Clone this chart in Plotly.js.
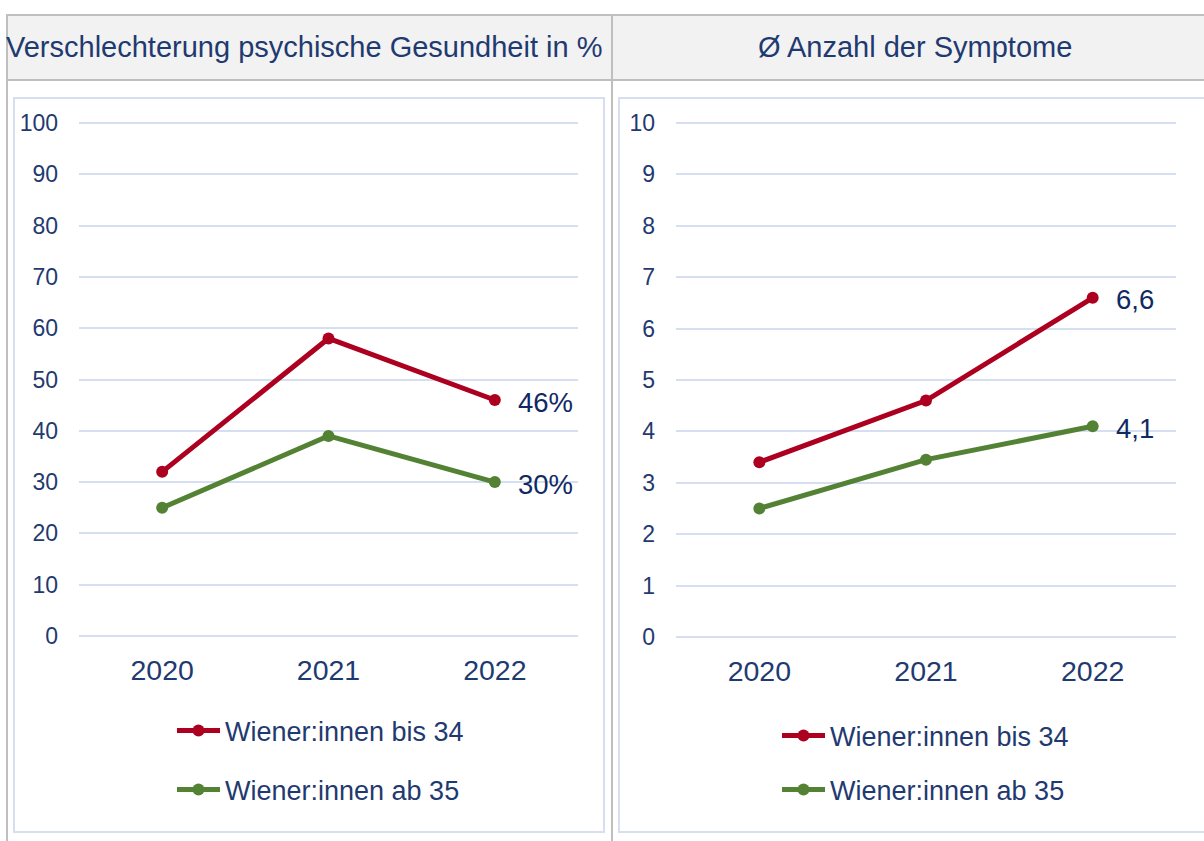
<!DOCTYPE html>
<html>
<head>
<meta charset="utf-8">
<script src="https://cdn.plot.ly/plotly-3.0.1.min.js"></script>
<style>
html,body{margin:0;padding:0;background:#fff;}
#chart{width:1204px;height:841px;}
</style>
</head>
<body>
<div id="chart"></div>
<script>
// ---- data ----
const years = ["2020", "2021", "2022"];
const seriesNames = ["Wiener:innen bis 34", "Wiener:innen ab 35"];
const panelTitles = ["Verschlechterung psychische Gesundheit in %", "Ø Anzahl der Symptome"];
const worseYoung = [32, 58, 46];
const worseOld = [25, 39, 30];
const symptomsYoung = [3.4, 4.6, 6.6];
const symptomsOld = [2.5, 3.45, 4.1];
const pctTicks = [0, 10, 20, 30, 40, 50, 60, 70, 80, 90, 100];
const symTicks = [0, 1, 2, 3, 4, 5, 6, 7, 8, 9, 10];

// ---- styling / layout helpers ----
const W = 1204, H = 841;
const px = x => x / W;
const py = y => 1 - y / H;
const RED = "#ad0020", GREEN = "#548235";
const NAVY = "#1f3a70", LABEL = "#0f2a63";
const FONT = "Arial, 'Liberation Sans', sans-serif";
const GRID = "#d6dff1";
const xIdx = years.map((_, i) => i);

// y-domain from pixel positions of two values
function yDomain(v0, p0, v1, p1, r0, r1) {
  const k = (p0 - p1) / (v1 - v0);
  const pb = p0 + (v0 - r0) * k;
  const pt = p1 - (r1 - v1) * k;
  return [py(pb), py(pt)];
}

function mk(x, y, name, color, xa, ya, legend) {
  return {
    x: x, y: y, name: name, type: "scatter", mode: "lines+markers",
    line: {color: color, width: 5}, marker: {color: color, size: 12},
    xaxis: xa, yaxis: ya, legend: legend, hoverinfo: "skip"
  };
}

const traces = [
  mk(xIdx, worseYoung, seriesNames[0], RED, "x", "y", "legend"),
  mk(xIdx, worseOld, seriesNames[1], GREEN, "x", "y", "legend2"),
  mk(xIdx, symptomsYoung, seriesNames[0], RED, "x2", "y2", "legend3"),
  mk(xIdx, symptomsOld, seriesNames[1], GREEN, "x2", "y2", "legend4")
];

const last = years.length - 1;
const fmtPct = v => v + "%";
const fmtDec = v => String(v).replace(".", ",");
function dataLabel(xa, ya, v, fmt) {
  return {xref: xa, yref: ya, x: last, y: v, text: fmt(v), showarrow: false,
    xanchor: "left", yanchor: "middle", xshift: 21, yshift: -2,
    font: {family: FONT, size: 27.5, color: LABEL}};
}

const xCommon = {
  tickvals: xIdx, ticktext: years, range: [-0.5, 2.5],
  showgrid: false, zeroline: false, showline: false, ticks: "",
  tickfont: {family: FONT, size: 28.5, color: NAVY}, ticklabelstandoff: 4, fixedrange: true
};
const yCommon = {
  showgrid: true, gridcolor: GRID, gridwidth: 2, zeroline: false, showline: false, ticks: "",
  tickfont: {family: FONT, size: 23, color: NAVY}, ticklabelstandoff: 20, fixedrange: true
};

function legendAt(x, y) {
  return {x: px(x), y: py(y), xanchor: "left", yanchor: "middle",
    font: {family: FONT, size: 27, color: NAVY}, bgcolor: "rgba(0,0,0,0)",
    borderwidth: 0, itemwidth: 43, itemclick: false, itemdoubleclick: false};
}

const border = "#bfbfbf";
const boxLine = "#d7def0";
const shapes = [
  // header band
  {type: "rect", xref: "paper", yref: "paper", x0: px(7), x1: px(1205), y0: py(80), y1: py(15),
   fillcolor: "#f2f2f2", line: {color: border, width: 2}, layer: "below"},
  {type: "line", xref: "paper", yref: "paper", x0: px(7), x1: px(7), y0: py(15), y1: py(842),
   line: {color: border, width: 2}},
  {type: "line", xref: "paper", yref: "paper", x0: px(612), x1: px(612), y0: py(15), y1: py(842),
   line: {color: border, width: 2}},
  // inner chart boxes
  {type: "rect", xref: "paper", yref: "paper", x0: px(14), x1: px(604), y0: py(832), y1: py(98),
   line: {color: boxLine, width: 2}, layer: "below"},
  {type: "rect", xref: "paper", yref: "paper", x0: px(619), x1: px(1210), y0: py(832), y1: py(98),
   line: {color: boxLine, width: 2}, layer: "below"}
];

const annotations = [
  {xref: "paper", yref: "paper", x: px(304), y: py(47), text: panelTitles[0], showarrow: false,
   xanchor: "center", yanchor: "middle", font: {family: FONT, size: 29, color: NAVY}},
  {xref: "paper", yref: "paper", x: px(915), y: py(47), text: panelTitles[1], showarrow: false,
   xanchor: "center", yanchor: "middle", font: {family: FONT, size: 29, color: NAVY}},
  dataLabel("x", "y", worseYoung[last], fmtPct),
  dataLabel("x", "y", worseOld[last], fmtPct),
  dataLabel("x2", "y2", symptomsYoung[last], fmtDec),
  dataLabel("x2", "y2", symptomsOld[last], fmtDec)
];

const layout = {
  width: W, height: H, margin: {l: 0, r: 0, t: 0, b: 0},
  paper_bgcolor: "#fff", plot_bgcolor: "rgba(0,0,0,0)",
  showlegend: true,
  xaxis: Object.assign({}, xCommon, {domain: [px(79), px(578)], anchor: "y"}),
  yaxis: Object.assign({}, yCommon, {range: [-2, 102], tickvals: pctTicks,
    domain: yDomain(0, 636, 100, 123, -2, 102), anchor: "x"}),
  xaxis2: Object.assign({}, xCommon, {domain: [px(676), px(1176)], anchor: "y2"}),
  yaxis2: Object.assign({}, yCommon, {range: [-0.2, 10.2], tickvals: symTicks,
    domain: yDomain(0, 637, 10, 123, -0.2, 10.2), anchor: "x2"}),
  legend: legendAt(172, 731),
  legend2: legendAt(172, 790),
  legend3: legendAt(777, 736),
  legend4: legendAt(777, 790),
  shapes: shapes,
  annotations: annotations
};

Plotly.newPlot("chart", traces, layout, {staticPlot: true, displayModeBar: false});
</script>
</body>
</html>
